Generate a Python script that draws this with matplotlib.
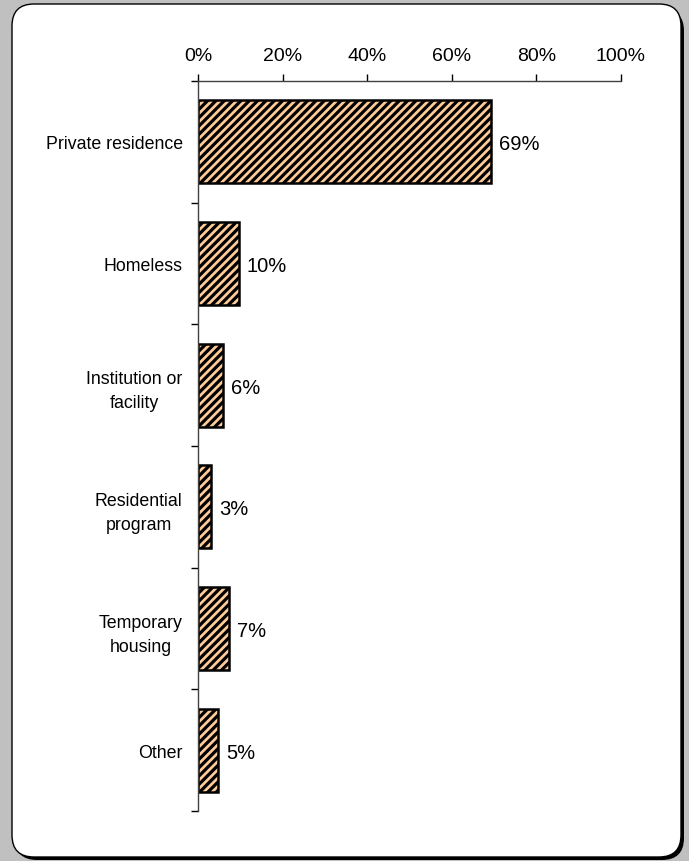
import numpy as np
import matplotlib
matplotlib.use("Agg")
import matplotlib.pyplot as plt
from matplotlib.patches import FancyBboxPatch

categories = ["Private residence", "Homeless", "Institution or\nfacility",
              "Residential\nprogram", "Temporary\nhousing", "Other"]
values = [69.3, 9.6, 5.9, 3.1, 7.3, 4.7]
labels = ["69%", "10%", "6%", "3%", "7%", "5%"]
ticks = [0, 20, 40, 60, 80, 100]
tick_labels = ["0%", "20%", "40%", "60%", "80%", "100%"]

plt.rcParams['font.family'] = ['Liberation Sans', 'DejaVu Sans']
plt.rcParams['hatch.linewidth'] = 2.3

fig = plt.figure(figsize=(6.89, 8.62), dpi=100)
fig.patch.set_facecolor('#c0c0c0')

# rounded white panel with a black drop shadow
shadow = FancyBboxPatch((15, 1), 669, 851, boxstyle="round,pad=0,rounding_size=22",
                        transform=None, facecolor='black', edgecolor='black', lw=0,
                        zorder=-2)
panel = FancyBboxPatch((12, 4), 669, 853, boxstyle="round,pad=0,rounding_size=22",
                       transform=None, facecolor='white', edgecolor='black', lw=1,
                       zorder=-1)
fig.patches.extend([shadow, panel])

ax = fig.add_axes([198/689, 1 - 812/862, 423/689, 730/862])
ax.patch.set_alpha(0)

y = np.arange(len(categories))
ax.barh(y, values, height=0.68, color='#ffcc99', edgecolor='black',
        linewidth=1.8, hatch='////')

for yi, v, lab in zip(y, values, labels):
    ax.annotate(lab, (v, yi), xytext=(6, 0), textcoords='offset points',
                va='center_baseline', ha='left', fontsize=14.5)

ax.set_xlim(0, 100)
ax.set_ylim(len(categories) - 0.5, -0.5)
ax.xaxis.tick_top()
ax.set_xticks(ticks)
ax.set_xticklabels(tick_labels, fontsize=14)
ax.tick_params(axis='x', direction='out', length=5, width=1, pad=7, colors='black')

ax.set_yticks(y)
ax.set_yticklabels(categories, fontsize=12.8, multialignment='center', linespacing=1.55)
ax.set_yticks(np.arange(len(categories) + 1) - 0.5, minor=True)
ax.tick_params(axis='y', which='major', length=0, pad=11)
ax.tick_params(axis='y', which='minor', length=5, width=1, direction='out')

for s in ['right', 'bottom']:
    ax.spines[s].set_visible(False)
for s in ['top', 'left']:
    ax.spines[s].set_color('#404040')
    ax.spines[s].set_linewidth(1)

plt.savefig('out.png', dpi=100, facecolor=fig.get_facecolor())
